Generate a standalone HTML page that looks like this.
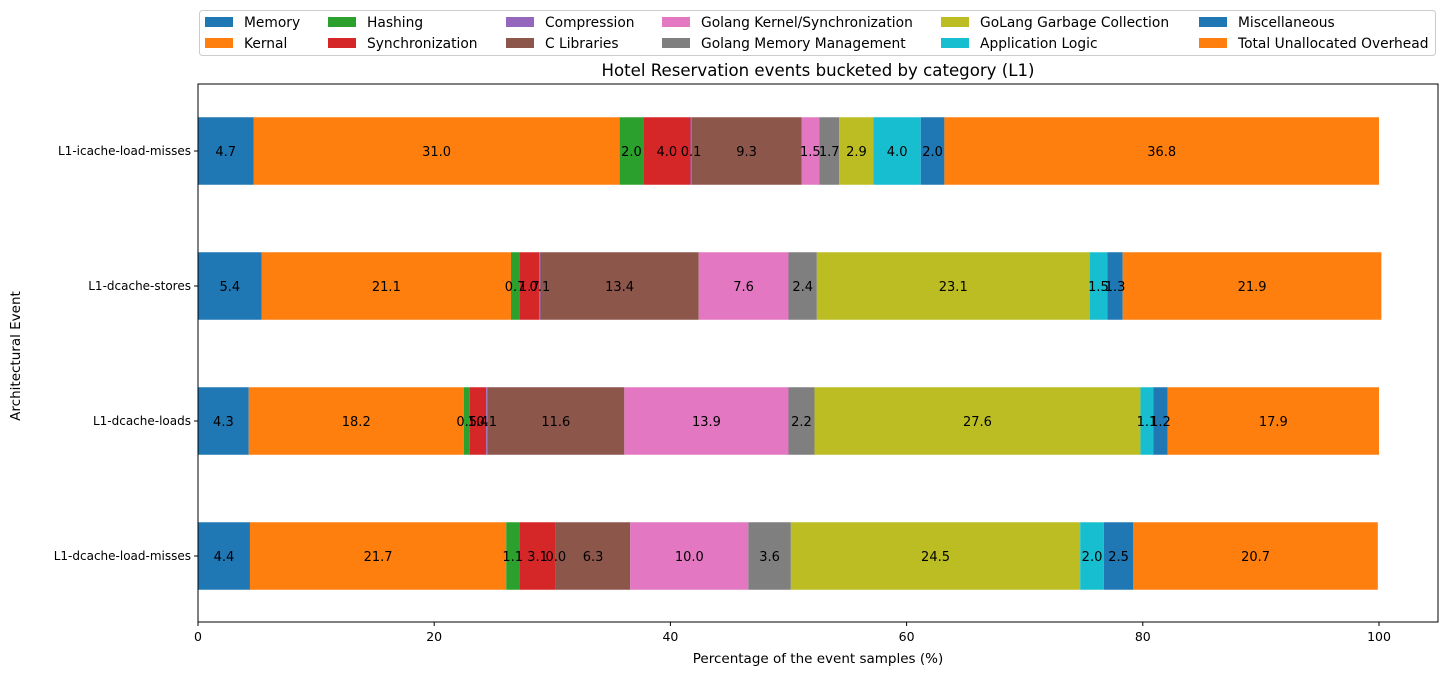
<!DOCTYPE html>
<html><head><meta charset="utf-8"><style>
body{margin:0;background:#fff;font-family:"DejaVu Sans","Liberation Sans",sans-serif;}
</style></head><body>
<svg id="chart" width="1447" height="676" xmlns="http://www.w3.org/2000/svg" font-family="DejaVu Sans, Liberation Sans, sans-serif"></svg>
<script>
const categories=["L1-dcache-load-misses","L1-dcache-loads","L1-dcache-stores","L1-icache-load-misses"];
const seriesNames=["Memory","Kernal","Hashing","Synchronization","Compression","C Libraries","Golang Kernel/Synchronization","Golang Memory Management","GoLang Garbage Collection","Application Logic","Miscellaneous","Total Unallocated Overhead"];
const seriesColors=["#1f77b4","#ff7f0e","#2ca02c","#d62728","#9467bd","#8c564b","#e377c2","#7f7f7f","#bcbd22","#17becf","#1f77b4","#ff7f0e"];
const vMemory=[4.4,4.3,5.4,4.7];
const vKernal=[21.7,18.2,21.1,31.0];
const vHashing=[1.1,0.5,0.7,2.0];
const vSync=[3.1,1.4,1.7,4.0];
const vCompression=[0.0,0.1,0.1,0.1];
const vCLib=[6.3,11.6,13.4,9.3];
const vGoKernel=[10.0,13.9,7.6,1.5];
const vGoMem=[3.6,2.2,2.4,1.7];
const vGC=[24.5,27.6,23.1,2.9];
const vApp=[2.0,1.1,1.5,4.0];
const vMisc=[2.5,1.2,1.3,2.0];
const vOverhead=[20.7,17.9,21.9,36.8];
const xTicks=[0,20,40,60,80,100];
const series=[vMemory,vKernal,vHashing,vSync,vCompression,vCLib,vGoKernel,vGoMem,vGC,vApp,vMisc,vOverhead];

const svg=document.getElementById('chart');
const NS="http://www.w3.org/2000/svg";
const L=198,R=1438,T=84,B=622;
const x=v=>198+v*11.81;
const y=i=>556-i*135;
function mk(tag,attrs,parent){const e=document.createElementNS(NS,tag);for(const k in attrs)e.setAttribute(k,attrs[k]);(parent||svg).appendChild(e);return e;}
function txt(s,attrs,parent){const e=mk('text',attrs,parent);e.textContent=s;return e;}

const labels=[];
categories.forEach((c,i)=>{
  let acc=0;
  series.forEach((s,j)=>{
    const v=s[i];
    const r=mk('rect',{x:x(acc),y:y(i)-33.75,width:Math.max(x(acc+v)-x(acc),0),height:67.5,fill:seriesColors[j]});
    
    
    labels.push([v.toFixed(1),(x(acc)+x(acc+v))/2,y(i)+5]);
    acc+=v;
  });
  mk('line',{x1:L-4,x2:L,y1:y(i),y2:y(i),stroke:'#000'});
  const t=txt(c,{x:L-7,y:y(i)+4,'text-anchor':'end','font-size':12});
  
  
});
labels.forEach(l=>{
  const t=txt(l[0],{x:l[1],y:l[2],'text-anchor':'middle','font-size':13,fill:'#000'});
  
  
});
xTicks.forEach(v=>{
  mk('line',{x1:x(v),x2:x(v),y1:B,y2:B+4,stroke:'#000'});
  const t=txt(String(v),{x:x(v),y:B+19,'text-anchor':'middle','font-size':12.5});
  
  
});
const frame=mk('rect',{x:L,y:T,width:R-L,height:B-T,fill:'none',stroke:'#000','stroke-width':1});


const title=txt('Hotel Reservation events bucketed by category (L1)',{x:(L+R)/2,y:T-8,'text-anchor':'middle','font-size':16.6});


const xt=txt('Percentage of the event samples (%)',{x:(L+R)/2,y:663,'text-anchor':'middle','font-size':13.5});


const yt=txt('Architectural Event',{x:0,y:0,'text-anchor':'middle','font-size':13.5,transform:'translate(20,356) rotate(-90)'});



const lg=mk('g',{});


mk('rect',{x:199.5,y:10.5,width:1236,height:45,fill:'#fff',stroke:'#ccc',rx:3},lg);
const cols=[205,328,506,662,941,1199];
seriesNames.forEach((n,j)=>{
  const col=Math.floor(j/2),row=j%2;
  const gx=cols[col],gy=22+row*21;
  const g=mk('g',{},lg);
  
  
  mk('rect',{x:gx,y:gy-5,width:28,height:10,fill:seriesColors[j]},g);
  txt(n,{x:gx+39,y:gy+5,'font-size':13.8},g);
});
</script>
</body></html>
